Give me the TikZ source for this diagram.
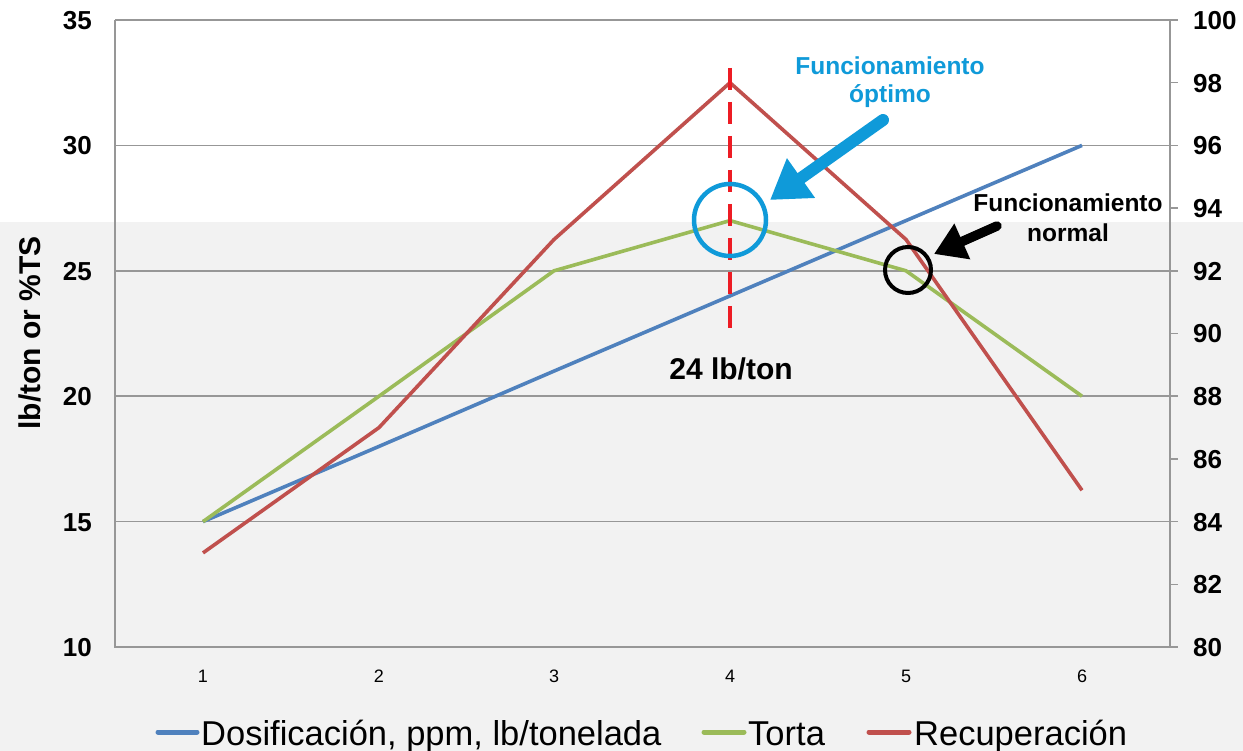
\documentclass[tikz,border=0pt]{standalone}
\usepackage{fontspec}
\setmainfont{Liberation Sans}
\usetikzlibrary{arrows.meta}
\definecolor{bgray}{HTML}{F2F2F2}
\definecolor{gridc}{HTML}{979797}
\definecolor{sblue}{HTML}{4F81BD}
\definecolor{sgreen}{HTML}{9BBB59}
\definecolor{sred}{HTML}{C0504D}
\definecolor{annob}{HTML}{0F9AD9}
\definecolor{dred}{HTML}{ED1C24}
\begin{document}
\begin{tikzpicture}[x=1pt,y=-1pt,
  gridline/.style={draw=gridc,line width=1.6pt},
  series/.style={line width=3.6pt,line join=round},
  lab/.style={font=\fontsize{26}{30}\selectfont\bfseries,inner sep=0pt},
  xlab/.style={font=\fontsize{18}{20}\selectfont,inner sep=0pt,anchor=base},
  leg/.style={font=\fontsize{34.5}{40}\selectfont,inner sep=0pt,anchor=base west},
  legline/.style={line width=5pt,line cap=round},
  note/.style={font=\fontsize{24.5}{28}\selectfont\bfseries,inner sep=0pt,anchor=base},
]
\useasboundingbox (0,0) rectangle (1243,751);
\fill[white] (0,0) rectangle (1243,222);
\fill[bgray] (0,222) rectangle (1243,751);

% grid lines
\foreach \y in {20,145.4,270.8,396.2,521.6}
  \draw[gridline] (115,\y) -- (1170,\y);
\draw[gridline] (115,20) -- (115,647) -- (1170,647) -- (1170,20);
\foreach \y in {20,82.7,145.4,208.1,270.8,333.5,396.2,458.9,521.6,584.3,647}
  \draw[gridline] (1170,\y) -- (1178,\y);

% left tick labels
\foreach \v/\y in {35/20,30/145.4,25/270.8,20/396.2,15/521.6,10/647}
  \node[lab,anchor=base east] (l\v) at (92,\y+9.5) {\v};
% right tick labels
\foreach \v/\y in {100/20,98/82.7,96/145.4,94/208.1,92/270.8,90/333.5,88/396.2,86/458.9,84/521.6,82/584.3,80/647}
  \node[lab,anchor=base west] (r\v) at (1193,\y+9.5) {\v};
% x labels
\foreach \i/\x in {1/203,2/379,3/554,4/730,5/906,6/1082}
  \node[xlab] (x\i) at (\x,682) {\i};

% y axis title
\node[font=\fontsize{30}{34}\selectfont\bfseries,rotate=90,inner sep=0pt] (ytitle) at (30,333) {lb/ton or \%TS};

% series
\draw[series,sblue] (203,521.6) -- (379,446.4) -- (554,371.1) -- (730,295.9) -- (906,220.6) -- (1082,145.4);
\draw[series,sgreen] (203,521.6) -- (379,396.2) -- (554,270.8) -- (730,220.6) -- (906,270.8) -- (1082,396.2);
\draw[series,sred] (203,552.9) -- (379,427.6) -- (554,239.5) -- (730,82.7) -- (906,239.5) -- (1082,490.3);

% optimum marker
\coordinate (dtop) at (730,68);
\coordinate (dbot) at (730,333);
\draw[dred,line width=4.5pt,dash pattern=on 22pt off 12pt] (dtop) -- (dbot);
\node[font=\fontsize{30}{34}\selectfont\bfseries,inner sep=0pt,anchor=base] (lbton) at (731,380) {24 lb/ton};

\draw[annob,line width=4.5pt] (730,220) circle[radius=36];
\draw[black,line width=4pt] (908,270) circle[radius=23];

% annotations
\node[note,text=annob] (opt1) at (890,75) {Funcionamiento};
\node[note,text=annob] (opt2) at (890,103) {óptimo};
\node[note] (nor1) at (1068,212) {Funcionamiento};
\node[note] (nor2) at (1068,242) {normal};

\coordinate (ba0) at (883,120);
\coordinate (ba1) at (770,200);
\draw[annob,line width=12pt,line cap=round,-{Triangle[length=38pt,width=46pt]}] (ba0) -- (ba1);
\coordinate (ka0) at (997,226);
\coordinate (ka1) at (934,254);
\draw[black,line width=9.5pt,line cap=round,-{Triangle[length=31pt,width=37pt]}] (ka0) -- (ka1);

% legend
\draw[legline,sblue] (158,732) -- (197,732);
\node[leg] (leg1) at (201,745) {Dosificación, ppm, lb/tonelada};
\draw[legline,sgreen] (704,732) -- (744,732);
\node[leg] (leg2) at (748,745) {Torta};
\draw[legline,sred] (869,732) -- (909,732);
\node[leg] (leg3) at (914,745) {Recuperación};
\end{tikzpicture}
\end{document}
